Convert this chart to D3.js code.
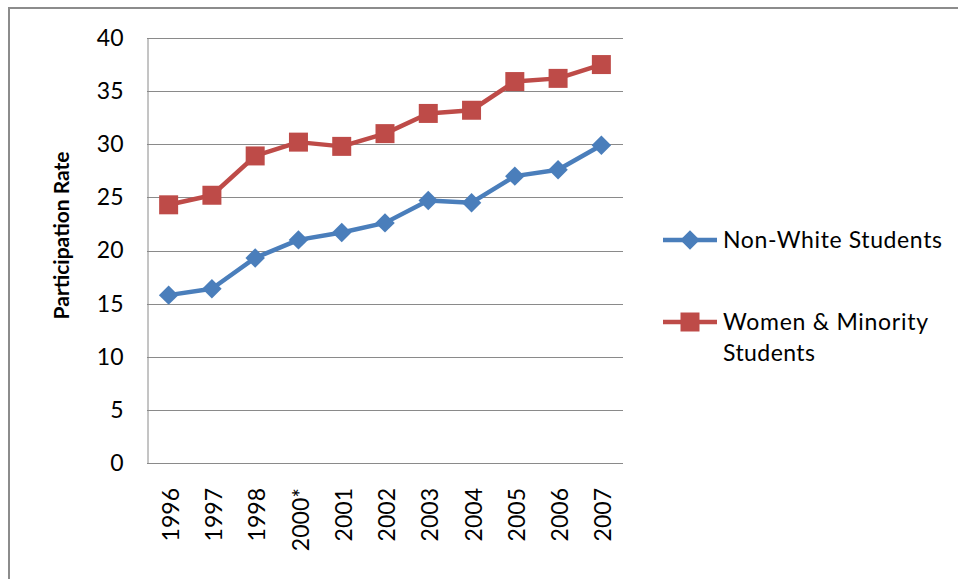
<!DOCTYPE html>
<html>
<head>
<meta charset="utf-8">
<script src="https://cdn.jsdelivr.net/npm/d3@7"></script>
<style>
  body { margin: 0; background: #fff; }
  svg { display: block; }
  text { font-family: Lato, "Open Sans", sans-serif; fill: #000; }
</style>
</head>
<body>
<div id="chart-area"><svg></svg></div>
<script>
const years = ["1996", "1997", "1998", "2000*", "2001", "2002", "2003", "2004", "2005", "2006", "2007"];
const nonWhite = [15.8, 16.4, 19.3, 21.0, 21.7, 22.6, 24.7, 24.5, 27.0, 27.6, 29.9];
const womenMinority = [24.3, 25.2, 28.9, 30.2, 29.8, 31.0, 32.9, 33.2, 35.9, 36.2, 37.5];
const yTicks = [0, 5, 10, 15, 20, 25, 30, 35, 40];

const chartSize = { width: 958, height: 579 };
const plot = { left: 147, right: 623, top: 38, bottom: 463 };
const blue = "#4a7ebb";
const red = "#be4b48";

const svg = d3
  .select("#chart-area svg")
  .attr("width", chartSize.width)
  .attr("height", chartSize.height);

// outer frame of the chart object
svg.append("path")
  .attr("d", "M9,600 V8 H970")
  .attr("fill", "none")
  .attr("stroke", "#8c8c8c")
  .attr("stroke-width", 2);

const x = d3.scaleBand()
  .domain(years)
  .range([plot.left, plot.right]);

const y = d3.scaleLinear()
  .domain([0, 40])
  .range([plot.bottom, plot.top]);

// gridlines
svg.append("g")
  .selectAll("line")
  .data(yTicks)
  .join("line")
  .attr("x1", plot.left)
  .attr("x2", plot.right)
  .attr("y1", d => Math.round(y(d)) + 0.5)
  .attr("y2", d => Math.round(y(d)) + 0.5)
  .attr("stroke", "#8a8a8a")
  .attr("stroke-width", 1);

// y axis
const yAxis = svg.append("g")
  .attr("transform", `translate(${plot.left + 0.5},0)`)
  .call(d3.axisLeft(y).tickValues(yTicks).tickSize(0).tickPadding(24));
yAxis.select(".domain").attr("stroke", "#8a8a8a");
yAxis.selectAll("text")
  .style("font-family", "Lato, sans-serif")
  .style("font-size", "23px")
  .attr("fill", "#000");

// x axis labels
const xAxis = svg.append("g")
  .attr("transform", `translate(0,${plot.bottom})`)
  .call(d3.axisBottom(x).tickSize(0).tickPadding(0));
xAxis.select(".domain").remove();
xAxis.selectAll("text")
  .style("font-family", "Lato, sans-serif")
  .style("font-size", "23px")
  .attr("fill", "#000")
  .attr("text-anchor", "end")
  .attr("dy", "0.35em")
  .attr("y", 0)
  .attr("transform", "translate(2,25) rotate(-90)");

// axis title
svg.append("text")
  .attr("transform", `translate(69,${(plot.top + plot.bottom) / 2 - 15}) rotate(-90)`)
  .attr("text-anchor", "middle")
  .style("font-size", "21px")
  .style("font-weight", "bold")
  .text("Participation Rate");

const cx = (d, i) => x(years[i]) + x.bandwidth() / 2;
const line = d3.line().x((d, i) => cx(d, i)).y(d => y(d));

const series = [
  { name: "Non-White Students", values: nonWhite, colour: blue, shape: "diamond" },
  { name: "Women & Minority", values: womenMinority, colour: red, shape: "square" }
];

const markerPath = shape =>
  shape == "diamond"
    ? d3.symbol(d3.symbolSquare, 190)()
    : d3.symbol(d3.symbolSquare, 361)();
const markerRotate = shape => (shape == "diamond" ? " rotate(45)" : "");

series.forEach(s => {
  svg.append("path")
    .datum(s.values)
    .attr("d", line)
    .attr("fill", "none")
    .attr("stroke", s.colour)
    .attr("stroke-width", 4.5)
    .attr("stroke-linejoin", "round");

  svg.append("g")
    .selectAll("path")
    .data(s.values)
    .join("path")
    .attr("d", markerPath(s.shape))
    .attr("transform", (d, i) => `translate(${cx(d, i)},${y(d)})${markerRotate(s.shape)}`)
    .attr("fill", s.colour);
});

// legend
const legend = svg.append("g").attr("class", "legend");
const legendRows = [
  { s: series[0], y: 240, lines: [["Non-White Students", 219]] },
  { s: series[1], y: 322, lines: [["Women & Minority", 205], ["Students", 92]] }
];
legendRows.forEach(r => {
  legend.append("line")
    .attr("x1", 663).attr("x2", 717)
    .attr("y1", r.y).attr("y2", r.y)
    .attr("stroke", r.s.colour)
    .attr("stroke-width", 4.5);
  legend.append("path")
    .attr("d", markerPath(r.s.shape))
    .attr("transform", `translate(690,${r.y})${markerRotate(r.s.shape)}`)
    .attr("fill", r.s.colour);
  r.lines.forEach(([t, w], k) => {
    legend.append("text")
      .attr("x", 723)
      .attr("y", r.y + k * 31)
      .attr("dy", "0.35em")
      .attr("textLength", w)
      .attr("lengthAdjust", "spacing")
      .style("font-size", "23px")
      .text(t);
  });
});
</script>
</body>
</html>
